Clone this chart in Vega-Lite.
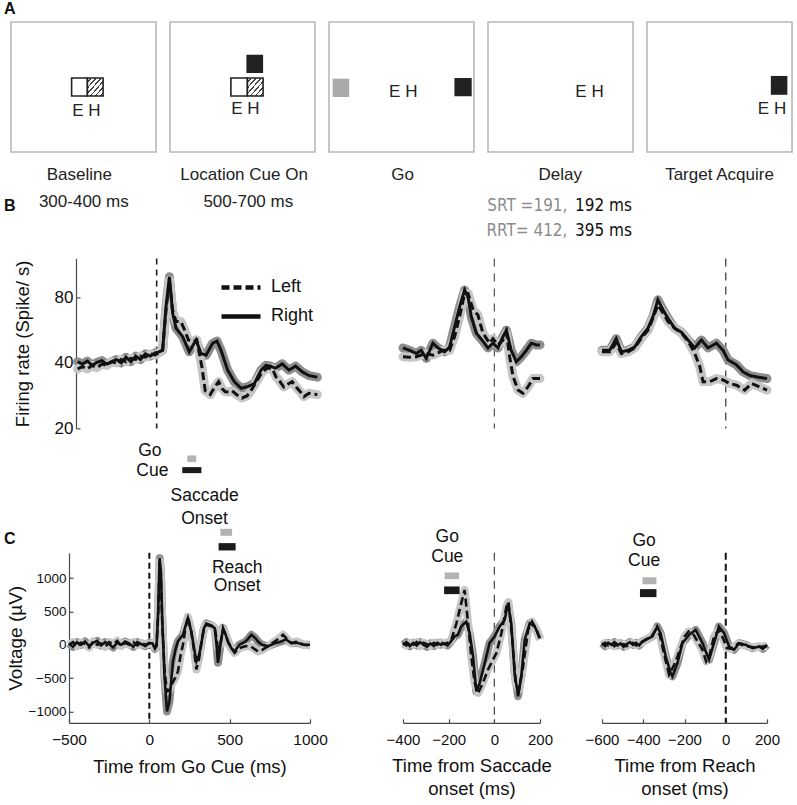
{
"$schema": "https://vega.github.io/schema/vega-lite/v6.json",
"padding": {"left": 3, "top": 0, "right": 0, "bottom": 0},
"bounds": "full",
"spacing": 2.4,
"config": {
  "font": "Liberation Sans",
  "view": {"stroke": null},
  "axis": {"grid": false, "domainColor": "#4a4a4a", "domainWidth": 1.2, "tickColor": "#4a4a4a", "tickWidth": 1.2, "tickSize": -4, "labelColor": "#111", "titleColor": "#111", "titleFontWeight": "normal", "labelFont": "Liberation Sans", "titleFont": "Liberation Sans", "labelOverlap": false, "labelFlush": false},
  "title": {"fontSize": 16, "fontWeight": "bold", "color": "#111", "anchor": "start", "frame": "group", "baseline": "alphabetic"}
},
"datasets": {
  "schem": [
    {"p":1,"k":"open","x":0.418,"x2":0.527,"y":0.431,"y2":0.569},
    {"p":1,"k":"hatch","x":0.527,"x2":0.635,"y":0.431,"y2":0.569},
    {"p":1,"k":"txt","x":0.52,"y":0.277,"label":"E H"},
    {"p":1,"k":"txt","x":0.471,"y":-0.216,"label":"Baseline"},
    {"p":1,"k":"txt","x":0.502,"y":-0.42,"label":"300-400 ms"},
    {"p":1,"k":"letter","x":-0.048,"y":-0.455,"label":"B"},
    {"p":2,"k":"open","x":0.42,"x2":0.534,"y":0.431,"y2":0.569},
    {"p":2,"k":"hatch","x":0.534,"x2":0.642,"y":0.431,"y2":0.569},
    {"p":2,"k":"black","x":0.527,"x2":0.642,"y":0.608,"y2":0.748},
    {"p":2,"k":"txt","x":0.52,"y":0.292,"label":"E H"},
    {"p":2,"k":"txt","x":0.511,"y":-0.216,"label":"Location Cue On"},
    {"p":2,"k":"txt","x":0.54,"y":-0.42,"label":"500-700 ms"},
    {"p":3,"k":"gray","x":0.025,"x2":0.139,"y":0.423,"y2":0.564},
    {"p":3,"k":"black","x":0.865,"x2":0.984,"y":0.428,"y2":0.569},
    {"p":3,"k":"txt","x":0.512,"y":0.423,"label":"E H"},
    {"p":3,"k":"txt","x":0.507,"y":-0.216,"label":"Go"},
    {"p":4,"k":"txt","x":0.70,"y":0.42,"label":"E H"},
    {"p":4,"k":"txt","x":0.498,"y":-0.216,"label":"Delay"},
    {"p":4,"k":"srtg","x":0.548,"y":-0.455,"label":"SRT =191,"},
    {"p":4,"k":"srtb","x":0.6,"y":-0.455,"label":"192 ms"},
    {"p":4,"k":"srtg","x":0.548,"y":-0.646,"label":"RRT= 412,"},
    {"p":4,"k":"srtb","x":0.6,"y":-0.646,"label":"395 ms"},
    {"p":5,"k":"black","x":0.854,"x2":0.968,"y":0.44,"y2":0.585},
    {"p":5,"k":"txt","x":0.862,"y":0.292,"label":"E H"},
    {"p":5,"k":"txt","x":0.5,"y":-0.216,"label":"Target Acquire"}
  ],
  "ann": [
    {"p":"c1","t":3,"v":2910,"label":"Go"},
    {"p":"c1","t":19,"v":2610,"label":"Cue"},
    {"p":"c1","t":344,"v":2235,"label":"Saccade"},
    {"p":"c1","t":344,"v":1890,"label":"Onset"},
    {"p":"c1","t":547,"v":1155,"label":"Reach"},
    {"p":"c1","t":547,"v":877,"label":"Onset"},
    {"p":"c2","t":-206,"v":1612,"label":"Go"},
    {"p":"c2","t":-206,"v":1312,"label":"Cue"},
    {"p":"c3","t":-396,"v":1560,"label":"Go"},
    {"p":"c3","t":-396,"v":1260,"label":"Cue"}
  ],
  "bars": [
    {"p":"c1","tone":"gray","t":236,"t2":292,"v":2840,"v2":2740},
    {"p":"c1","tone":"black","t":205,"t2":324,"v":2665,"v2":2575},
    {"p":"c1","tone":"gray","t":442,"t2":515,"v":1740,"v2":1635},
    {"p":"c1","tone":"black","t":431,"t2":537,"v":1525,"v2":1415},
    {"p":"c2","tone":"gray","t":-218,"t2":-154,"v":1085,"v2":985},
    {"p":"c2","tone":"black","t":-220,"t2":-152,"v":875,"v2":760},
    {"p":"c3","tone":"gray","t":-404,"t2":-336,"v":1015,"v2":910},
    {"p":"c3","tone":"black","t":-416,"t2":-336,"v":835,"v2":715}
  ],
  "b1": [
    {"t":-490,"v":40.5,"s":"Right"},{"t":-460,"v":39.5,"s":"Right"},{"t":-430,"v":40.8,"s":"Right"},{"t":-400,"v":39,"s":"Right"},{"t":-370,"v":40.2,"s":"Right"},{"t":-340,"v":41,"s":"Right"},{"t":-310,"v":39.5,"s":"Right"},{"t":-280,"v":40.5,"s":"Right"},{"t":-250,"v":41.5,"s":"Right"},{"t":-220,"v":40,"s":"Right"},{"t":-190,"v":42.5,"s":"Right"},{"t":-160,"v":40.5,"s":"Right"},{"t":-130,"v":43,"s":"Right"},{"t":-100,"v":41.5,"s":"Right"},{"t":-70,"v":44,"s":"Right"},{"t":-40,"v":43,"s":"Right"},{"t":-10,"v":44.5,"s":"Right"},{"t":15,"v":45,"s":"Right"},{"t":37,"v":45.7,"s":"Right"},{"t":58,"v":72.5,"s":"Right"},{"t":79,"v":99.6,"s":"Right"},{"t":99,"v":67.8,"s":"Right"},{"t":120,"v":57.8,"s":"Right"},{"t":161,"v":52.9,"s":"Right"},{"t":202,"v":45,"s":"Right"},{"t":244,"v":51,"s":"Right"},{"t":275,"v":44.2,"s":"Right"},{"t":306,"v":43.4,"s":"Right"},{"t":347,"v":49.3,"s":"Right"},{"t":374,"v":50.4,"s":"Right"},{"t":399,"v":45.7,"s":"Right"},{"t":440,"v":37.1,"s":"Right"},{"t":481,"v":32.8,"s":"Right"},{"t":523,"v":30.6,"s":"Right"},{"t":564,"v":31.1,"s":"Right"},{"t":606,"v":32.2,"s":"Right"},{"t":647,"v":37.1,"s":"Right"},{"t":678,"v":39,"s":"Right"},{"t":705,"v":38.7,"s":"Right"},{"t":736,"v":37.8,"s":"Right"},{"t":778,"v":39.6,"s":"Right"},{"t":820,"v":37.1,"s":"Right"},{"t":861,"v":38.7,"s":"Right"},{"t":902,"v":36.4,"s":"Right"},{"t":944,"v":35,"s":"Right"},{"t":996,"v":34.4,"s":"Right"},
    {"t":-490,"v":37.5,"s":"Left"},{"t":-460,"v":38.5,"s":"Left"},{"t":-430,"v":37.5,"s":"Left"},{"t":-400,"v":39,"s":"Left"},{"t":-370,"v":38,"s":"Left"},{"t":-340,"v":39.5,"s":"Left"},{"t":-310,"v":39,"s":"Left"},{"t":-280,"v":40.5,"s":"Left"},{"t":-250,"v":40,"s":"Left"},{"t":-220,"v":41.5,"s":"Left"},{"t":-190,"v":40.5,"s":"Left"},{"t":-160,"v":42,"s":"Left"},{"t":-130,"v":41.5,"s":"Left"},{"t":-100,"v":43,"s":"Left"},{"t":-70,"v":42.5,"s":"Left"},{"t":-40,"v":44,"s":"Left"},{"t":-10,"v":43.5,"s":"Left"},{"t":15,"v":44.5,"s":"Left"},{"t":37,"v":46,"s":"Left"},{"t":58,"v":70,"s":"Left"},{"t":79,"v":96,"s":"Left"},{"t":99,"v":70,"s":"Left"},{"t":120,"v":62,"s":"Left"},{"t":150,"v":62,"s":"Left"},{"t":176,"v":56,"s":"Left"},{"t":197,"v":51,"s":"Left"},{"t":225,"v":50,"s":"Left"},{"t":249,"v":51,"s":"Left"},{"t":265,"v":44,"s":"Left"},{"t":280,"v":38.5,"s":"Left"},{"t":301,"v":29.8,"s":"Left"},{"t":332,"v":28.6,"s":"Left"},{"t":360,"v":31,"s":"Left"},{"t":384,"v":32.8,"s":"Left"},{"t":405,"v":30.5,"s":"Left"},{"t":425,"v":29.5,"s":"Left"},{"t":446,"v":29.4,"s":"Left"},{"t":467,"v":29.8,"s":"Left"},{"t":498,"v":28.5,"s":"Left"},{"t":529,"v":27.6,"s":"Left"},{"t":560,"v":28.2,"s":"Left"},{"t":581,"v":29.5,"s":"Left"},{"t":620,"v":33,"s":"Left"},{"t":654,"v":36.4,"s":"Left"},{"t":685,"v":37.8,"s":"Left"},{"t":716,"v":37.8,"s":"Left"},{"t":740,"v":34.5,"s":"Left"},{"t":757,"v":33.4,"s":"Left"},{"t":788,"v":31,"s":"Left"},{"t":815,"v":32,"s":"Left"},{"t":840,"v":32.8,"s":"Left"},{"t":865,"v":31,"s":"Left"},{"t":890,"v":29.5,"s":"Left"},{"t":913,"v":28,"s":"Left"},{"t":944,"v":29,"s":"Left"},{"t":996,"v":28.6,"s":"Left"}
  ],
  "b2": [
    {"t":-400,"v":46.9,"s":"Right"},{"t":-371,"v":45.7,"s":"Right"},{"t":-342,"v":44.2,"s":"Right"},{"t":-320,"v":45.7,"s":"Right"},{"t":-298,"v":42,"s":"Right"},{"t":-269,"v":49.3,"s":"Right"},{"t":-247,"v":46.9,"s":"Right"},{"t":-218,"v":45,"s":"Right"},{"t":-196,"v":47.3,"s":"Right"},{"t":-174,"v":58.8,"s":"Right"},{"t":-152,"v":72.5,"s":"Right"},{"t":-130,"v":86.6,"s":"Right"},{"t":-115,"v":80.2,"s":"Right"},{"t":-101,"v":65.3,"s":"Right"},{"t":-79,"v":54.9,"s":"Right"},{"t":-50,"v":50.4,"s":"Right"},{"t":-28,"v":46.9,"s":"Right"},{"t":-6,"v":49.3,"s":"Right"},{"t":16,"v":46.9,"s":"Right"},{"t":38,"v":52.9,"s":"Right"},{"t":53,"v":56.6,"s":"Right"},{"t":74,"v":45.7,"s":"Right"},{"t":96,"v":40.5,"s":"Right"},{"t":118,"v":42.7,"s":"Right"},{"t":140,"v":45.7,"s":"Right"},{"t":162,"v":49.3,"s":"Right"},{"t":184,"v":48.4,"s":"Right"},{"t":200,"v":48.4,"s":"Right"},
    {"t":-400,"v":42.7,"s":"Left"},{"t":-371,"v":42.5,"s":"Left"},{"t":-342,"v":42.7,"s":"Left"},{"t":-320,"v":43.5,"s":"Left"},{"t":-298,"v":44.2,"s":"Left"},{"t":-269,"v":43.4,"s":"Left"},{"t":-247,"v":44.5,"s":"Left"},{"t":-225,"v":45.7,"s":"Left"},{"t":-196,"v":45.7,"s":"Left"},{"t":-174,"v":52.9,"s":"Left"},{"t":-152,"v":65.3,"s":"Left"},{"t":-130,"v":83.5,"s":"Left"},{"t":-115,"v":83.5,"s":"Left"},{"t":-93,"v":70.2,"s":"Left"},{"t":-72,"v":66.5,"s":"Left"},{"t":-50,"v":54.9,"s":"Left"},{"t":-21,"v":49.3,"s":"Left"},{"t":-6,"v":51.7,"s":"Left"},{"t":16,"v":48.4,"s":"Left"},{"t":38,"v":51,"s":"Left"},{"t":53,"v":54.9,"s":"Left"},{"t":67,"v":42.7,"s":"Left"},{"t":82,"v":34.6,"s":"Left"},{"t":104,"v":30,"s":"Left"},{"t":125,"v":29,"s":"Left"},{"t":147,"v":31,"s":"Left"},{"t":169,"v":33.9,"s":"Left"},{"t":200,"v":33.9,"s":"Left"}
  ],
  "b3": [
    {"t":-600,"v":45.7,"s":"Right"},{"t":-563,"v":45.7,"s":"Right"},{"t":-531,"v":51.7,"s":"Right"},{"t":-506,"v":45,"s":"Right"},{"t":-474,"v":45.7,"s":"Right"},{"t":-442,"v":47.3,"s":"Right"},{"t":-409,"v":52.9,"s":"Right"},{"t":-377,"v":57.8,"s":"Right"},{"t":-353,"v":65.3,"s":"Right"},{"t":-329,"v":78,"s":"Right"},{"t":-304,"v":70.2,"s":"Right"},{"t":-280,"v":64.2,"s":"Right"},{"t":-248,"v":57.8,"s":"Right"},{"t":-215,"v":55.4,"s":"Right"},{"t":-183,"v":51,"s":"Right"},{"t":-150,"v":46.9,"s":"Right"},{"t":-118,"v":51,"s":"Right"},{"t":-86,"v":46.9,"s":"Right"},{"t":-45,"v":49.3,"s":"Right"},{"t":-13,"v":45.7,"s":"Right"},{"t":11,"v":41.3,"s":"Right"},{"t":52,"v":39.2,"s":"Right"},{"t":84,"v":36.4,"s":"Right"},{"t":117,"v":35,"s":"Right"},{"t":157,"v":34.4,"s":"Right"},{"t":200,"v":33.9,"s":"Right"},
    {"t":-600,"v":45,"s":"Left"},{"t":-563,"v":45,"s":"Left"},{"t":-531,"v":49.3,"s":"Left"},{"t":-506,"v":44.2,"s":"Left"},{"t":-474,"v":45,"s":"Left"},{"t":-442,"v":46.9,"s":"Left"},{"t":-409,"v":52,"s":"Left"},{"t":-377,"v":56.6,"s":"Left"},{"t":-353,"v":64.2,"s":"Left"},{"t":-329,"v":73.9,"s":"Left"},{"t":-304,"v":67.8,"s":"Left"},{"t":-280,"v":62,"s":"Left"},{"t":-248,"v":57.8,"s":"Left"},{"t":-215,"v":54.9,"s":"Left"},{"t":-183,"v":50.4,"s":"Left"},{"t":-150,"v":44.2,"s":"Left"},{"t":-126,"v":38.5,"s":"Left"},{"t":-110,"v":32.8,"s":"Left"},{"t":-78,"v":32.8,"s":"Left"},{"t":-45,"v":33.9,"s":"Left"},{"t":-13,"v":33.4,"s":"Left"},{"t":19,"v":32.2,"s":"Left"},{"t":52,"v":31.6,"s":"Left"},{"t":92,"v":30,"s":"Left"},{"t":125,"v":32.2,"s":"Left"},{"t":165,"v":31,"s":"Left"},{"t":200,"v":30,"s":"Left"}
  ],
  "c1": [
    {"t":-500,"v":20,"s":"Right"},{"t":-475,"v":-30,"s":"Right"},{"t":-450,"v":40,"s":"Right"},{"t":-425,"v":0,"s":"Right"},{"t":-400,"v":50,"s":"Right"},{"t":-375,"v":-20,"s":"Right"},{"t":-350,"v":30,"s":"Right"},{"t":-325,"v":60,"s":"Right"},{"t":-300,"v":-10,"s":"Right"},{"t":-275,"v":40,"s":"Right"},{"t":-250,"v":10,"s":"Right"},{"t":-225,"v":-40,"s":"Right"},{"t":-200,"v":30,"s":"Right"},{"t":-175,"v":0,"s":"Right"},{"t":-150,"v":50,"s":"Right"},{"t":-125,"v":20,"s":"Right"},{"t":-100,"v":-30,"s":"Right"},{"t":-75,"v":40,"s":"Right"},{"t":-50,"v":10,"s":"Right"},{"t":-25,"v":-20,"s":"Right"},{"t":0,"v":30,"s":"Right"},{"t":20,"v":20,"s":"Right"},{"t":35,"v":-60,"s":"Right"},{"t":45,"v":-20,"s":"Right"},{"t":55,"v":500,"s":"Right"},{"t":64,"v":1300,"s":"Right"},{"t":72,"v":1100,"s":"Right"},{"t":80,"v":400,"s":"Right"},{"t":95,"v":-500,"s":"Right"},{"t":110,"v":-1000,"s":"Right"},{"t":125,"v":-850,"s":"Right"},{"t":147,"v":-250,"s":"Right"},{"t":165,"v":-50,"s":"Right"},{"t":178,"v":50,"s":"Right"},{"t":209,"v":150,"s":"Right"},{"t":240,"v":400,"s":"Right"},{"t":261,"v":200,"s":"Right"},{"t":282,"v":-100,"s":"Right"},{"t":293,"v":-250,"s":"Right"},{"t":310,"v":-150,"s":"Right"},{"t":324,"v":25,"s":"Right"},{"t":340,"v":250,"s":"Right"},{"t":355,"v":320,"s":"Right"},{"t":386,"v":290,"s":"Right"},{"t":407,"v":250,"s":"Right"},{"t":418,"v":0,"s":"Right"},{"t":427,"v":-270,"s":"Right"},{"t":440,"v":-50,"s":"Right"},{"t":459,"v":250,"s":"Right"},{"t":475,"v":150,"s":"Right"},{"t":490,"v":50,"s":"Right"},{"t":510,"v":-50,"s":"Right"},{"t":531,"v":-100,"s":"Right"},{"t":560,"v":0,"s":"Right"},{"t":600,"v":50,"s":"Right"},{"t":635,"v":150,"s":"Right"},{"t":660,"v":100,"s":"Right"},{"t":676,"v":50,"s":"Right"},{"t":700,"v":0,"s":"Right"},{"t":740,"v":-20,"s":"Right"},{"t":780,"v":20,"s":"Right"},{"t":820,"v":50,"s":"Right"},{"t":850,"v":80,"s":"Right"},{"t":884,"v":25,"s":"Right"},{"t":920,"v":30,"s":"Right"},{"t":960,"v":0,"s":"Right"},{"t":1000,"v":0,"s":"Right"},
    {"t":-500,"v":0,"s":"Left"},{"t":-475,"v":40,"s":"Left"},{"t":-450,"v":-20,"s":"Left"},{"t":-425,"v":30,"s":"Left"},{"t":-400,"v":10,"s":"Left"},{"t":-375,"v":-40,"s":"Left"},{"t":-350,"v":50,"s":"Left"},{"t":-325,"v":0,"s":"Left"},{"t":-300,"v":20,"s":"Left"},{"t":-275,"v":-30,"s":"Left"},{"t":-250,"v":40,"s":"Left"},{"t":-225,"v":10,"s":"Left"},{"t":-200,"v":60,"s":"Left"},{"t":-175,"v":-20,"s":"Left"},{"t":-150,"v":30,"s":"Left"},{"t":-125,"v":0,"s":"Left"},{"t":-100,"v":40,"s":"Left"},{"t":-75,"v":-10,"s":"Left"},{"t":-50,"v":30,"s":"Left"},{"t":-25,"v":0,"s":"Left"},{"t":0,"v":20,"s":"Left"},{"t":20,"v":10,"s":"Left"},{"t":35,"v":-40,"s":"Left"},{"t":45,"v":0,"s":"Left"},{"t":55,"v":450,"s":"Left"},{"t":64,"v":1250,"s":"Left"},{"t":72,"v":1050,"s":"Left"},{"t":80,"v":350,"s":"Left"},{"t":95,"v":-400,"s":"Left"},{"t":110,"v":-700,"s":"Left"},{"t":125,"v":-680,"s":"Left"},{"t":137,"v":-600,"s":"Left"},{"t":160,"v":-500,"s":"Left"},{"t":178,"v":-400,"s":"Left"},{"t":195,"v":-150,"s":"Left"},{"t":209,"v":0,"s":"Left"},{"t":225,"v":250,"s":"Left"},{"t":240,"v":420,"s":"Left"},{"t":261,"v":200,"s":"Left"},{"t":282,"v":-150,"s":"Left"},{"t":293,"v":-370,"s":"Left"},{"t":310,"v":-200,"s":"Left"},{"t":324,"v":25,"s":"Left"},{"t":340,"v":250,"s":"Left"},{"t":355,"v":300,"s":"Left"},{"t":386,"v":280,"s":"Left"},{"t":407,"v":260,"s":"Left"},{"t":427,"v":-50,"s":"Left"},{"t":440,"v":0,"s":"Left"},{"t":459,"v":230,"s":"Left"},{"t":475,"v":150,"s":"Left"},{"t":490,"v":40,"s":"Left"},{"t":510,"v":-50,"s":"Left"},{"t":531,"v":-120,"s":"Left"},{"t":560,"v":-50,"s":"Left"},{"t":600,"v":-20,"s":"Left"},{"t":635,"v":-30,"s":"Left"},{"t":676,"v":-100,"s":"Left"},{"t":700,"v":-80,"s":"Left"},{"t":740,"v":-20,"s":"Left"},{"t":780,"v":50,"s":"Left"},{"t":810,"v":100,"s":"Left"},{"t":832,"v":150,"s":"Left"},{"t":860,"v":80,"s":"Left"},{"t":884,"v":25,"s":"Left"},{"t":920,"v":50,"s":"Left"},{"t":960,"v":0,"s":"Left"},{"t":1000,"v":-10,"s":"Left"}
  ],
  "c2": [
    {"t":-400,"v":0,"s":"Right"},{"t":-385,"v":40,"s":"Right"},{"t":-370,"v":-20,"s":"Right"},{"t":-355,"v":30,"s":"Right"},{"t":-340,"v":-10,"s":"Right"},{"t":-325,"v":40,"s":"Right"},{"t":-310,"v":0,"s":"Right"},{"t":-295,"v":-30,"s":"Right"},{"t":-280,"v":20,"s":"Right"},{"t":-265,"v":-20,"s":"Right"},{"t":-250,"v":30,"s":"Right"},{"t":-235,"v":0,"s":"Right"},{"t":-220,"v":20,"s":"Right"},{"t":-205,"v":-10,"s":"Right"},{"t":-190,"v":50,"s":"Right"},{"t":-175,"v":120,"s":"Right"},{"t":-160,"v":150,"s":"Right"},{"t":-145,"v":274,"s":"Right"},{"t":-123,"v":348,"s":"Right"},{"t":-108,"v":174,"s":"Right"},{"t":-93,"v":-174,"s":"Right"},{"t":-79,"v":-697,"s":"Right"},{"t":-64,"v":-572,"s":"Right"},{"t":-42,"v":-274,"s":"Right"},{"t":-21,"v":25,"s":"Right"},{"t":1,"v":124,"s":"Right"},{"t":23,"v":274,"s":"Right"},{"t":45,"v":373,"s":"Right"},{"t":60,"v":622,"s":"Right"},{"t":74,"v":323,"s":"Right"},{"t":89,"v":-423,"s":"Right"},{"t":104,"v":-771,"s":"Right"},{"t":118,"v":-473,"s":"Right"},{"t":133,"v":75,"s":"Right"},{"t":155,"v":323,"s":"Right"},{"t":177,"v":274,"s":"Right"},{"t":200,"v":100,"s":"Right"},
    {"t":-400,"v":20,"s":"Left"},{"t":-385,"v":-10,"s":"Left"},{"t":-370,"v":30,"s":"Left"},{"t":-355,"v":0,"s":"Left"},{"t":-340,"v":40,"s":"Left"},{"t":-325,"v":-20,"s":"Left"},{"t":-310,"v":30,"s":"Left"},{"t":-295,"v":10,"s":"Left"},{"t":-280,"v":-20,"s":"Left"},{"t":-265,"v":30,"s":"Left"},{"t":-250,"v":0,"s":"Left"},{"t":-235,"v":40,"s":"Left"},{"t":-220,"v":10,"s":"Left"},{"t":-205,"v":30,"s":"Left"},{"t":-188,"v":75,"s":"Left"},{"t":-166,"v":323,"s":"Left"},{"t":-145,"v":622,"s":"Left"},{"t":-130,"v":820,"s":"Left"},{"t":-115,"v":323,"s":"Left"},{"t":-101,"v":-174,"s":"Left"},{"t":-86,"v":-572,"s":"Left"},{"t":-71,"v":-722,"s":"Left"},{"t":-50,"v":-572,"s":"Left"},{"t":-28,"v":-373,"s":"Left"},{"t":-6,"v":-224,"s":"Left"},{"t":9,"v":-124,"s":"Left"},{"t":31,"v":174,"s":"Left"},{"t":53,"v":572,"s":"Left"},{"t":62,"v":640,"s":"Left"},{"t":79,"v":75,"s":"Left"},{"t":93,"v":-572,"s":"Left"},{"t":108,"v":-672,"s":"Left"},{"t":126,"v":-324,"s":"Left"},{"t":148,"v":224,"s":"Left"},{"t":165,"v":348,"s":"Left"},{"t":185,"v":224,"s":"Left"},{"t":200,"v":75,"s":"Left"}
  ],
  "c3": [
    {"t":-600,"v":25,"s":"Right"},{"t":-585,"v":-20,"s":"Right"},{"t":-570,"v":30,"s":"Right"},{"t":-555,"v":0,"s":"Right"},{"t":-540,"v":40,"s":"Right"},{"t":-525,"v":-10,"s":"Right"},{"t":-510,"v":20,"s":"Right"},{"t":-495,"v":-30,"s":"Right"},{"t":-480,"v":10,"s":"Right"},{"t":-465,"v":40,"s":"Right"},{"t":-450,"v":0,"s":"Right"},{"t":-435,"v":30,"s":"Right"},{"t":-420,"v":-10,"s":"Right"},{"t":-405,"v":50,"s":"Right"},{"t":-388,"v":75,"s":"Right"},{"t":-356,"v":124,"s":"Right"},{"t":-332,"v":274,"s":"Right"},{"t":-316,"v":174,"s":"Right"},{"t":-291,"v":-174,"s":"Right"},{"t":-267,"v":-423,"s":"Right"},{"t":-259,"v":-473,"s":"Right"},{"t":-234,"v":-274,"s":"Right"},{"t":-210,"v":25,"s":"Right"},{"t":-178,"v":149,"s":"Right"},{"t":-146,"v":224,"s":"Right"},{"t":-113,"v":25,"s":"Right"},{"t":-81,"v":-224,"s":"Right"},{"t":-57,"v":25,"s":"Right"},{"t":-33,"v":274,"s":"Right"},{"t":-8,"v":174,"s":"Right"},{"t":16,"v":-25,"s":"Right"},{"t":40,"v":-75,"s":"Right"},{"t":65,"v":25,"s":"Right"},{"t":97,"v":0,"s":"Right"},{"t":130,"v":-50,"s":"Right"},{"t":162,"v":-25,"s":"Right"},{"t":180,"v":-60,"s":"Right"},{"t":200,"v":0,"s":"Right"},
    {"t":-600,"v":0,"s":"Left"},{"t":-585,"v":30,"s":"Left"},{"t":-570,"v":-10,"s":"Left"},{"t":-555,"v":20,"s":"Left"},{"t":-540,"v":-20,"s":"Left"},{"t":-525,"v":30,"s":"Left"},{"t":-510,"v":0,"s":"Left"},{"t":-495,"v":10,"s":"Left"},{"t":-480,"v":-20,"s":"Left"},{"t":-465,"v":20,"s":"Left"},{"t":-450,"v":30,"s":"Left"},{"t":-435,"v":-10,"s":"Left"},{"t":-420,"v":20,"s":"Left"},{"t":-405,"v":40,"s":"Left"},{"t":-388,"v":80,"s":"Left"},{"t":-360,"v":124,"s":"Left"},{"t":-340,"v":224,"s":"Left"},{"t":-320,"v":150,"s":"Left"},{"t":-300,"v":-124,"s":"Left"},{"t":-275,"v":-448,"s":"Left"},{"t":-250,"v":-300,"s":"Left"},{"t":-234,"v":-174,"s":"Left"},{"t":-200,"v":124,"s":"Left"},{"t":-180,"v":199,"s":"Left"},{"t":-160,"v":174,"s":"Left"},{"t":-113,"v":-75,"s":"Left"},{"t":-95,"v":-249,"s":"Left"},{"t":-80,"v":-174,"s":"Left"},{"t":-57,"v":124,"s":"Left"},{"t":-33,"v":224,"s":"Left"},{"t":-10,"v":75,"s":"Left"},{"t":5,"v":-50,"s":"Left"},{"t":30,"v":-60,"s":"Left"},{"t":60,"v":20,"s":"Left"},{"t":100,"v":-20,"s":"Left"},{"t":140,"v":-40,"s":"Left"},{"t":170,"v":-30,"s":"Left"},{"t":200,"v":-20,"s":"Left"}
  ]
},
"vconcat": [
 {"bounds": "flush", "spacing": 0, "hconcat": [
    {"width":145,"height":130,"view":{"stroke":"#b8b8b8","strokeWidth":1.6},
     "title": {"text": "A", "dx": -7, "offset": 5},
     "data":{"name":"schem"},"transform":[{"filter":"datum.p==1"}],
     "encoding":{"x":{"field":"x","type":"quantitative","scale":{"domain":[0,1],"nice":false,"zero":false},"axis":null},"y":{"field":"y","type":"quantitative","scale":{"domain":[0,1],"nice":false,"zero":false},"axis":null}},
     "layer":[
      {"transform":[{"filter":"datum.k=='open'"}],"mark":{"type":"rect","fill":"#ffffff","stroke":"#222222","strokeWidth":1.6},"encoding":{"x2":{"field":"x2"},"y2":{"field":"y2"}}},
      {"transform":[{"filter":"datum.k=='hatch'"}],"mark":{"type":"rect","stroke":"#222222","strokeWidth":1.6,"fill":{"gradient":"linear","x1":0,"y1":0,"x2":1,"y2":1,"stops":[{"offset":0,"color":"#ffffff"},{"offset":0.09,"color":"#ffffff"},{"offset":0.09,"color":"#444444"},{"offset":0.14,"color":"#444444"},{"offset":0.14,"color":"#ffffff"},{"offset":0.25,"color":"#ffffff"},{"offset":0.25,"color":"#444444"},{"offset":0.30,"color":"#444444"},{"offset":0.30,"color":"#ffffff"},{"offset":0.41,"color":"#ffffff"},{"offset":0.41,"color":"#444444"},{"offset":0.46,"color":"#444444"},{"offset":0.46,"color":"#ffffff"},{"offset":0.57,"color":"#ffffff"},{"offset":0.57,"color":"#444444"},{"offset":0.62,"color":"#444444"},{"offset":0.62,"color":"#ffffff"},{"offset":0.73,"color":"#ffffff"},{"offset":0.73,"color":"#444444"},{"offset":0.78,"color":"#444444"},{"offset":0.78,"color":"#ffffff"},{"offset":0.89,"color":"#ffffff"},{"offset":0.89,"color":"#444444"},{"offset":0.94,"color":"#444444"},{"offset":0.94,"color":"#ffffff"},{"offset":1,"color":"#ffffff"}]}},"encoding":{"x2":{"field":"x2"},"y2":{"field":"y2"}}},
      {"transform":[{"filter":"datum.k=='txt'"}],"mark":{"type":"text","fontSize":17,"fill":"#222222","baseline":"alphabetic"},"encoding":{"text":{"field":"label"}}},
      {"transform":[{"filter":"datum.k=='letter'"}],"mark":{"type":"text","fontSize":16,"fontWeight":"bold","fill":"#111111","align":"left","baseline":"alphabetic"},"encoding":{"text":{"field":"label"}}}
     ]},
    {"width":14,"height":228,"view":{"fill":"transparent"},"data":{"values":[{"e":""}]},"mark":{"type":"text"},"encoding":{"text":{"field":"e","type":"nominal"}}},
    {"width":145,"height":130,"view":{"stroke":"#b8b8b8","strokeWidth":1.6},
     "data":{"name":"schem"},"transform":[{"filter":"datum.p==2"}],
     "encoding":{"x":{"field":"x","type":"quantitative","scale":{"domain":[0,1],"nice":false,"zero":false},"axis":null},"y":{"field":"y","type":"quantitative","scale":{"domain":[0,1],"nice":false,"zero":false},"axis":null}},
     "layer":[
      {"transform":[{"filter":"datum.k=='open'"}],"mark":{"type":"rect","fill":"#ffffff","stroke":"#222222","strokeWidth":1.6},"encoding":{"x2":{"field":"x2"},"y2":{"field":"y2"}}},
      {"transform":[{"filter":"datum.k=='hatch'"}],"mark":{"type":"rect","stroke":"#222222","strokeWidth":1.6,"fill":{"gradient":"linear","x1":0,"y1":0,"x2":1,"y2":1,"stops":[{"offset":0,"color":"#ffffff"},{"offset":0.09,"color":"#ffffff"},{"offset":0.09,"color":"#444444"},{"offset":0.14,"color":"#444444"},{"offset":0.14,"color":"#ffffff"},{"offset":0.25,"color":"#ffffff"},{"offset":0.25,"color":"#444444"},{"offset":0.30,"color":"#444444"},{"offset":0.30,"color":"#ffffff"},{"offset":0.41,"color":"#ffffff"},{"offset":0.41,"color":"#444444"},{"offset":0.46,"color":"#444444"},{"offset":0.46,"color":"#ffffff"},{"offset":0.57,"color":"#ffffff"},{"offset":0.57,"color":"#444444"},{"offset":0.62,"color":"#444444"},{"offset":0.62,"color":"#ffffff"},{"offset":0.73,"color":"#ffffff"},{"offset":0.73,"color":"#444444"},{"offset":0.78,"color":"#444444"},{"offset":0.78,"color":"#ffffff"},{"offset":0.89,"color":"#ffffff"},{"offset":0.89,"color":"#444444"},{"offset":0.94,"color":"#444444"},{"offset":0.94,"color":"#ffffff"},{"offset":1,"color":"#ffffff"}]}},"encoding":{"x2":{"field":"x2"},"y2":{"field":"y2"}}},
      {"transform":[{"filter":"datum.k=='black'"}],"mark":{"type":"rect","fill":"#222222"},"encoding":{"x2":{"field":"x2"},"y2":{"field":"y2"}}},
      {"transform":[{"filter":"datum.k=='txt'"}],"mark":{"type":"text","fontSize":17,"fill":"#222222","baseline":"alphabetic"},"encoding":{"text":{"field":"label"}}}
     ]},
    {"width":14,"height":1,"data":{"values":[{"e":""}]},"mark":{"type":"text"},"encoding":{"text":{"field":"e","type":"nominal"}}},
    {"width":145,"height":130,"view":{"stroke":"#b8b8b8","strokeWidth":1.6},
     "data":{"name":"schem"},"transform":[{"filter":"datum.p==3"}],
     "encoding":{"x":{"field":"x","type":"quantitative","scale":{"domain":[0,1],"nice":false,"zero":false},"axis":null},"y":{"field":"y","type":"quantitative","scale":{"domain":[0,1],"nice":false,"zero":false},"axis":null}},
     "layer":[
      {"transform":[{"filter":"datum.k=='black'"}],"mark":{"type":"rect","fill":"#222222"},"encoding":{"x2":{"field":"x2"},"y2":{"field":"y2"}}},
      {"transform":[{"filter":"datum.k=='gray'"}],"mark":{"type":"rect","fill":"#a9a9a9"},"encoding":{"x2":{"field":"x2"},"y2":{"field":"y2"}}},
      {"transform":[{"filter":"datum.k=='txt'"}],"mark":{"type":"text","fontSize":17,"fill":"#222222","baseline":"alphabetic"},"encoding":{"text":{"field":"label"}}}
     ]},
    {"width":14,"height":1,"data":{"values":[{"e":""}]},"mark":{"type":"text"},"encoding":{"text":{"field":"e","type":"nominal"}}},
    {"width":145,"height":130,"view":{"stroke":"#b8b8b8","strokeWidth":1.6},
     "data":{"name":"schem"},"transform":[{"filter":"datum.p==4"}],
     "encoding":{"x":{"field":"x","type":"quantitative","scale":{"domain":[0,1],"nice":false,"zero":false},"axis":null},"y":{"field":"y","type":"quantitative","scale":{"domain":[0,1],"nice":false,"zero":false},"axis":null}},
     "layer":[
      {"transform":[{"filter":"datum.k=='txt'"}],"mark":{"type":"text","fontSize":17,"fill":"#222222","baseline":"alphabetic"},"encoding":{"text":{"field":"label"}}},
      {"transform":[{"filter":"datum.k=='srtg'"}],"mark":{"type":"text","font":"DejaVu Sans Condensed, Liberation Sans, sans-serif","fontSize":17,"fill":"#8c8c8c","align":"right","baseline":"alphabetic"},"encoding":{"text":{"field":"label"}}},
      {"transform":[{"filter":"datum.k=='srtb'"}],"mark":{"type":"text","font":"DejaVu Sans Condensed, Liberation Sans, sans-serif","fontSize":17,"fill":"#111111","align":"left","baseline":"alphabetic"},"encoding":{"text":{"field":"label"}}}
     ]},
    {"width":14,"height":1,"data":{"values":[{"e":""}]},"mark":{"type":"text"},"encoding":{"text":{"field":"e","type":"nominal"}}},
    {"width":145,"height":130,"view":{"stroke":"#b8b8b8","strokeWidth":1.6},
     "data":{"name":"schem"},"transform":[{"filter":"datum.p==5"}],
     "encoding":{"x":{"field":"x","type":"quantitative","scale":{"domain":[0,1],"nice":false,"zero":false},"axis":null},"y":{"field":"y","type":"quantitative","scale":{"domain":[0,1],"nice":false,"zero":false},"axis":null}},
     "layer":[
      {"transform":[{"filter":"datum.k=='black'"}],"mark":{"type":"rect","fill":"#222222"},"encoding":{"x2":{"field":"x2"},"y2":{"field":"y2"}}},
      {"transform":[{"filter":"datum.k=='txt'"}],"mark":{"type":"text","fontSize":17,"fill":"#222222","baseline":"alphabetic"},"encoding":{"text":{"field":"label"}}}
     ]}
 ]},
 {"bounds": "flush", "spacing": 0,
  "resolve": {"scale": {"strokeDash": "independent"}, "legend": {"strokeDash": "independent"}},
  "hconcat": [
    {"width":65,"height":180,"view":{"fill":"transparent"},"data":{"values":[{"e":""}]},"mark":{"type":"text"},"encoding":{"text":{"field":"e","type":"nominal"}}},
    {"width":242,"height":170,"data":{"name":"b1"},
     "encoding":{"x":{"field":"t","type":"quantitative","scale":{"domain":[-500,1000],"nice":false,"zero":false},"axis":null}},
     "layer":[
      {"data":{"values":[{"t":0}]},"mark":{"type":"rule","color":"#222222","strokeDash":[6,5],"strokeWidth":1.6},"encoding":{}},
      {"mark":{"type":"line","strokeWidth":9,"strokeJoin":"round","strokeCap":"round"},"encoding":{"y":{"field":"v","type":"quantitative","scale":{"type":"log","domain":[20,121],"nice":false},"axis":{"values":[20,40,80],"format":"d","title":"Firing rate (Spike/ s)","labelFontSize":17,"titleFontSize":18.5,"labelPadding":7,"titlePadding":22}},"color":{"field":"s","type":"nominal","scale":{"domain":["Left","Right"],"range":["#c6c6c6","#8e8e8e"]},"legend":null}}},
      {"mark":{"type":"line","strokeWidth":3,"color":"#111111"},"encoding":{"y":{"field":"v","type":"quantitative","scale":{"type":"log","domain":[20,121],"nice":false}},"strokeDash":{"field":"s","type":"nominal","scale":{"domain":["Left","Right"],"range":[[8,4],[1,0]]},"legend":{"orient":"none","legendX":143,"legendY":20,"title":null,"symbolType":"stroke","symbolSize":1521,"symbolStrokeWidth":4.5,"symbolStrokeColor":"#111111","labelFontSize":18,"labelColor":"#111111","rowPadding":11,"clipHeight":18,"labelOffset":8,"padding":0}}}}
     ]},
    {"width":85,"height":1,"data":{"values":[{"e":""}]},"mark":{"type":"text"},"encoding":{"text":{"field":"e","type":"nominal"}}},
    {"width":137,"height":170,"data":{"name":"b2"},
     "encoding":{"x":{"field":"t","type":"quantitative","scale":{"domain":[-400,200],"nice":false,"zero":false},"axis":null}},
     "layer":[
      {"data":{"values":[{"t":0}]},"mark":{"type":"rule","color":"#555555","strokeDash":[8,7],"strokeWidth":1.2},"encoding":{}},
      {"mark":{"type":"line","strokeWidth":9,"strokeJoin":"round","strokeCap":"round"},"encoding":{"y":{"field":"v","type":"quantitative","scale":{"type":"log","domain":[20,121],"nice":false},"axis":null},"color":{"field":"s","type":"nominal","scale":{"domain":["Left","Right"],"range":["#c6c6c6","#8e8e8e"]},"legend":null}}},
      {"mark":{"type":"line","strokeWidth":3,"color":"#111111"},"encoding":{"y":{"field":"v","type":"quantitative","scale":{"type":"log","domain":[20,121],"nice":false}},"strokeDash":{"field":"s","type":"nominal","scale":{"domain":["Left","Right"],"range":[[8,4],[1,0]]},"legend":null}}}
     ]},
    {"width":62,"height":1,"data":{"values":[{"e":""}]},"mark":{"type":"text"},"encoding":{"text":{"field":"e","type":"nominal"}}},
    {"width":165,"height":170,"data":{"name":"b3"},
     "encoding":{"x":{"field":"t","type":"quantitative","scale":{"domain":[-600,200],"nice":false,"zero":false},"axis":null}},
     "layer":[
      {"data":{"values":[{"t":0}]},"mark":{"type":"rule","color":"#444444","strokeDash":[8,6],"strokeWidth":1.3},"encoding":{}},
      {"mark":{"type":"line","strokeWidth":9,"strokeJoin":"round","strokeCap":"round"},"encoding":{"y":{"field":"v","type":"quantitative","scale":{"type":"log","domain":[20,121],"nice":false},"axis":null},"color":{"field":"s","type":"nominal","scale":{"domain":["Left","Right"],"range":["#c6c6c6","#8e8e8e"]},"legend":null}}},
      {"mark":{"type":"line","strokeWidth":3,"color":"#111111"},"encoding":{"y":{"field":"v","type":"quantitative","scale":{"type":"log","domain":[20,121],"nice":false}},"strokeDash":{"field":"s","type":"nominal","scale":{"domain":["Left","Right"],"range":[[8,4],[1,0]]},"legend":null}}}
     ]}
 ]},
 {"bounds": "flush", "spacing": 0,
  "hconcat": [
    {"width":58,"height":1,"title":{"text":"C","dx":-7,"offset":0},"data":{"values":[{"e":""}]},"mark":{"type":"text"},"encoding":{"text":{"field":"e","type":"nominal"}}},
    {"width":241,"height":170,"data":{"name":"c1"},
     "encoding":{"x":{"field":"t","type":"quantitative","scale":{"domain":[-500,1000],"nice":false,"zero":false},"axis":{"values":[-500,0,500,1000],"format":"d","title":"Time from Go Cue (ms)","labelFontSize":15.5,"titleFontSize":18.5,"labelPadding":14,"titlePadding":9}}},
     "layer":[
      {"data":{"values":[{"t":0}]},"mark":{"type":"rule","color":"#111111","strokeDash":[6,4],"strokeWidth":2},"encoding":{}},
      {"mark":{"type":"line","strokeWidth":8,"strokeJoin":"round"},"encoding":{"y":{"field":"v","type":"quantitative","scale":{"domain":[-1170,1380],"nice":false,"zero":false},"axis":{"values":[-1000,-500,0,500,1000],"format":"d","title":"Voltage (µV)","labelFontSize":13.5,"titleFontSize":19,"labelPadding":7,"titlePadding":3}},"color":{"field":"s","type":"nominal","scale":{"domain":["Left","Right"],"range":["#c6c6c6","#8e8e8e"]},"legend":null}}},
      {"mark":{"type":"line","strokeWidth":2.6,"color":"#111111"},"encoding":{"y":{"field":"v","type":"quantitative","scale":{"domain":[-1170,1380],"nice":false,"zero":false}},"strokeDash":{"field":"s","type":"nominal","scale":{"domain":["Left","Right"],"range":[[8,4],[1,0]]},"legend":null}}},
      {"data":{"name":"bars"},"transform":[{"filter":"datum.p=='c1' && datum.tone=='gray'"}],"mark":{"type":"rect","color":"#b3b3b3"},"encoding":{"x2":{"field":"t2"},"y":{"field":"v","type":"quantitative","scale":{"domain":[-1170,1380],"nice":false,"zero":false}},"y2":{"field":"v2"}}},
      {"data":{"name":"bars"},"transform":[{"filter":"datum.p=='c1' && datum.tone=='black'"}],"mark":{"type":"rect","color":"#1a1a1a"},"encoding":{"x2":{"field":"t2"},"y":{"field":"v","type":"quantitative","scale":{"domain":[-1170,1380],"nice":false,"zero":false}},"y2":{"field":"v2"}}},
      {"data":{"name":"ann"},"transform":[{"filter":"datum.p=='c1'"}],"mark":{"type":"text","fontSize":17.5,"color":"#111111","baseline":"middle"},"encoding":{"y":{"field":"v","type":"quantitative","scale":{"domain":[-1170,1380],"nice":false,"zero":false}},"text":{"field":"label","type":"nominal"}}}
     ]},
    {"width":93,"height":1,"data":{"values":[{"e":""}]},"mark":{"type":"text"},"encoding":{"text":{"field":"e","type":"nominal"}}},
    {"width":137,"height":170,"data":{"name":"c2"},
     "encoding":{"x":{"field":"t","type":"quantitative","scale":{"domain":[-400,200],"nice":false,"zero":false},"axis":{"values":[-400,-200,0,200],"format":"d","title":["Time from Saccade","onset (ms)"],"titleLineHeight":23,"labelFontSize":15,"titleFontSize":18.5,"labelPadding":14,"titlePadding":9}}},
     "layer":[
      {"data":{"values":[{"t":0}]},"mark":{"type":"rule","color":"#444444","strokeDash":[8,6],"strokeWidth":1.2},"encoding":{}},
      {"mark":{"type":"line","strokeWidth":8,"strokeJoin":"round"},"encoding":{"y":{"field":"v","type":"quantitative","scale":{"domain":[-1170,1380],"nice":false,"zero":false},"axis":null},"color":{"field":"s","type":"nominal","scale":{"domain":["Left","Right"],"range":["#c6c6c6","#8e8e8e"]},"legend":null}}},
      {"mark":{"type":"line","strokeWidth":2.6,"color":"#111111"},"encoding":{"y":{"field":"v","type":"quantitative","scale":{"domain":[-1170,1380],"nice":false,"zero":false}},"strokeDash":{"field":"s","type":"nominal","scale":{"domain":["Left","Right"],"range":[[8,4],[1,0]]},"legend":null}}},
      {"data":{"name":"bars"},"transform":[{"filter":"datum.p=='c2' && datum.tone=='gray'"}],"mark":{"type":"rect","color":"#b3b3b3"},"encoding":{"x2":{"field":"t2"},"y":{"field":"v","type":"quantitative","scale":{"domain":[-1170,1380],"nice":false,"zero":false}},"y2":{"field":"v2"}}},
      {"data":{"name":"bars"},"transform":[{"filter":"datum.p=='c2' && datum.tone=='black'"}],"mark":{"type":"rect","color":"#1a1a1a"},"encoding":{"x2":{"field":"t2"},"y":{"field":"v","type":"quantitative","scale":{"domain":[-1170,1380],"nice":false,"zero":false}},"y2":{"field":"v2"}}},
      {"data":{"name":"ann"},"transform":[{"filter":"datum.p=='c2'"}],"mark":{"type":"text","fontSize":17.5,"color":"#111111","baseline":"middle"},"encoding":{"y":{"field":"v","type":"quantitative","scale":{"domain":[-1170,1380],"nice":false,"zero":false}},"text":{"field":"label","type":"nominal"}}}
     ]},
    {"width":62,"height":1,"data":{"values":[{"e":""}]},"mark":{"type":"text"},"encoding":{"text":{"field":"e","type":"nominal"}}},
    {"width":165,"height":170,"data":{"name":"c3"},
     "encoding":{"x":{"field":"t","type":"quantitative","scale":{"domain":[-600,200],"nice":false,"zero":false},"axis":{"values":[-600,-400,-200,0,200],"format":"d","title":["Time from Reach","onset (ms)"],"titleLineHeight":23,"labelFontSize":15,"titleFontSize":18.5,"labelPadding":14,"titlePadding":9}}},
     "layer":[
      {"data":{"values":[{"t":0}]},"mark":{"type":"rule","color":"#111111","strokeDash":[7,4],"strokeWidth":2},"encoding":{}},
      {"mark":{"type":"line","strokeWidth":8,"strokeJoin":"round"},"encoding":{"y":{"field":"v","type":"quantitative","scale":{"domain":[-1170,1380],"nice":false,"zero":false},"axis":null},"color":{"field":"s","type":"nominal","scale":{"domain":["Left","Right"],"range":["#c6c6c6","#8e8e8e"]},"legend":null}}},
      {"mark":{"type":"line","strokeWidth":2.6,"color":"#111111"},"encoding":{"y":{"field":"v","type":"quantitative","scale":{"domain":[-1170,1380],"nice":false,"zero":false}},"strokeDash":{"field":"s","type":"nominal","scale":{"domain":["Left","Right"],"range":[[8,4],[1,0]]},"legend":null}}},
      {"data":{"name":"bars"},"transform":[{"filter":"datum.p=='c3' && datum.tone=='gray'"}],"mark":{"type":"rect","color":"#b3b3b3"},"encoding":{"x2":{"field":"t2"},"y":{"field":"v","type":"quantitative","scale":{"domain":[-1170,1380],"nice":false,"zero":false}},"y2":{"field":"v2"}}},
      {"data":{"name":"bars"},"transform":[{"filter":"datum.p=='c3' && datum.tone=='black'"}],"mark":{"type":"rect","color":"#1a1a1a"},"encoding":{"x2":{"field":"t2"},"y":{"field":"v","type":"quantitative","scale":{"domain":[-1170,1380],"nice":false,"zero":false}},"y2":{"field":"v2"}}},
      {"data":{"name":"ann"},"transform":[{"filter":"datum.p=='c3'"}],"mark":{"type":"text","fontSize":17.5,"color":"#111111","baseline":"middle"},"encoding":{"y":{"field":"v","type":"quantitative","scale":{"domain":[-1170,1380],"nice":false,"zero":false}},"text":{"field":"label","type":"nominal"}}}
     ]}
 ]}
]
}
